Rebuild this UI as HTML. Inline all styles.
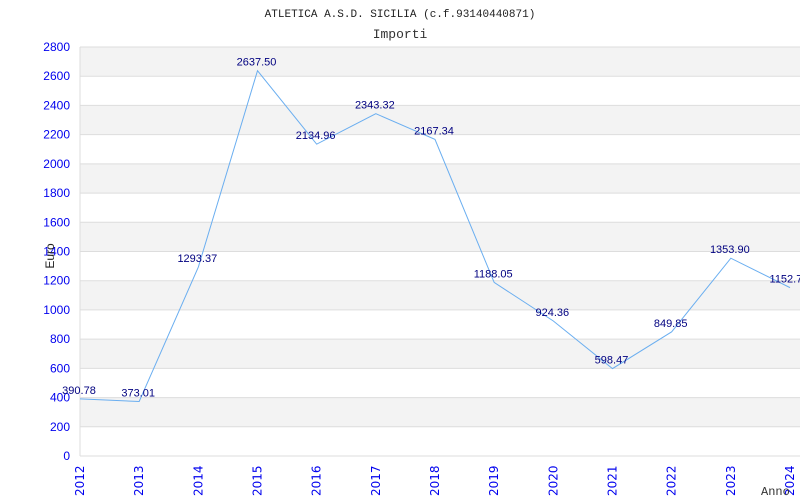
<!DOCTYPE html>
<html><head><meta charset="utf-8"><style>
body{margin:0;background:#fff;}
svg{display:block;font-family:"Liberation Sans",sans-serif;}
</style></head><body>
<svg id="chart" width="800" height="500">
<text x="400" y="17" text-anchor="middle" font-family="Liberation Mono, monospace" font-size="11" fill="#222">ATLETICA A.S.D. SICILIA (c.f.93140440871)</text>
<text x="400" y="38" text-anchor="middle" font-family="Liberation Mono, monospace" font-size="13" fill="#333">Importi</text>
<g id="bands"></g><g id="yticks"></g><g id="xticks"></g><g id="series"></g>
<text transform="translate(54,256) rotate(-90)" text-anchor="middle" font-size="12" fill="#222">Euro</text>
<text x="761" y="495" font-family="Liberation Mono, monospace" font-size="12" fill="#333">Anno</text>
</svg>
<script>
const years=["2012","2013","2014","2015","2016","2017","2018","2019","2020","2021","2022","2023","2024"];
const values=[390.78,373.01,1293.37,2637.50,2134.96,2343.32,2167.34,1188.05,924.36,598.47,849.85,1353.90,1152.75];
const labels=["390.78","373.01","1293.37","2637.50","2134.96","2343.32","2167.34","1188.05","924.36","598.47","849.85","1353.90","1152.75"];
const yTicks=[0,200,400,600,800,1000,1200,1400,1600,1800,2000,2200,2400,2600,2800];
const NS="http://www.w3.org/2000/svg";
const X0=80,X1=790,Y0=456,Y1=47,YMAX=2800;
const xs=i=>X0+(X1-X0)*i/(years.length-1);
const ys=v=>Y0-(Y0-Y1)*v/YMAX;
function mk(t,a,p){const e=document.createElementNS(NS,t);for(const k in a)e.setAttribute(k,a[k]);p.appendChild(e);return e;}
const bands=document.getElementById('bands');
for(let i=0;i<yTicks.length-1;i++){
 const r=mk('rect',{x:X0,y:ys(yTicks[i+1]),width:X1-X0+10,height:ys(yTicks[i])-ys(yTicks[i+1]),fill:(i%2==1)?'#f3f3f3':'#ffffff'},bands);
 
 
}
const yt=document.getElementById('yticks');
yTicks.forEach(v=>{
 const l=mk('line',{x1:X0,x2:X1+10,y1:ys(v),y2:ys(v),stroke:'#dddddd'},yt);
 
 
 const t=mk('text',{x:70,y:ys(v)+4,'text-anchor':'end','font-size':12,fill:'#0000ee'},yt);
 
 
 t.textContent=v;
});
mk('line',{x1:X0,x2:X0,y1:Y1,y2:Y0,stroke:'#dddddd'},yt);
const xt=document.getElementById('xticks');
years.forEach((y,i)=>{
 const t=mk('text',{transform:`translate(${xs(i)+4},496) rotate(-90)`,'font-size':12,fill:'#0000ee','font-family':'DejaVu Sans, sans-serif'},xt);
 
 
 t.textContent=y;
});
const s=document.getElementById('series');
const pl=mk('polyline',{points:values.map((v,i)=>xs(i)+','+ys(v)).join(' '),fill:'none',stroke:'#6aaef0','stroke-width':1},s);


values.forEach((v,i)=>{
 const t=mk('text',{x:xs(i)-1,y:ys(v)-5,'text-anchor':'middle','font-size':11,fill:'#000080'},s);
 
 
 t.textContent=labels[i];
});
</script>
</body></html>
